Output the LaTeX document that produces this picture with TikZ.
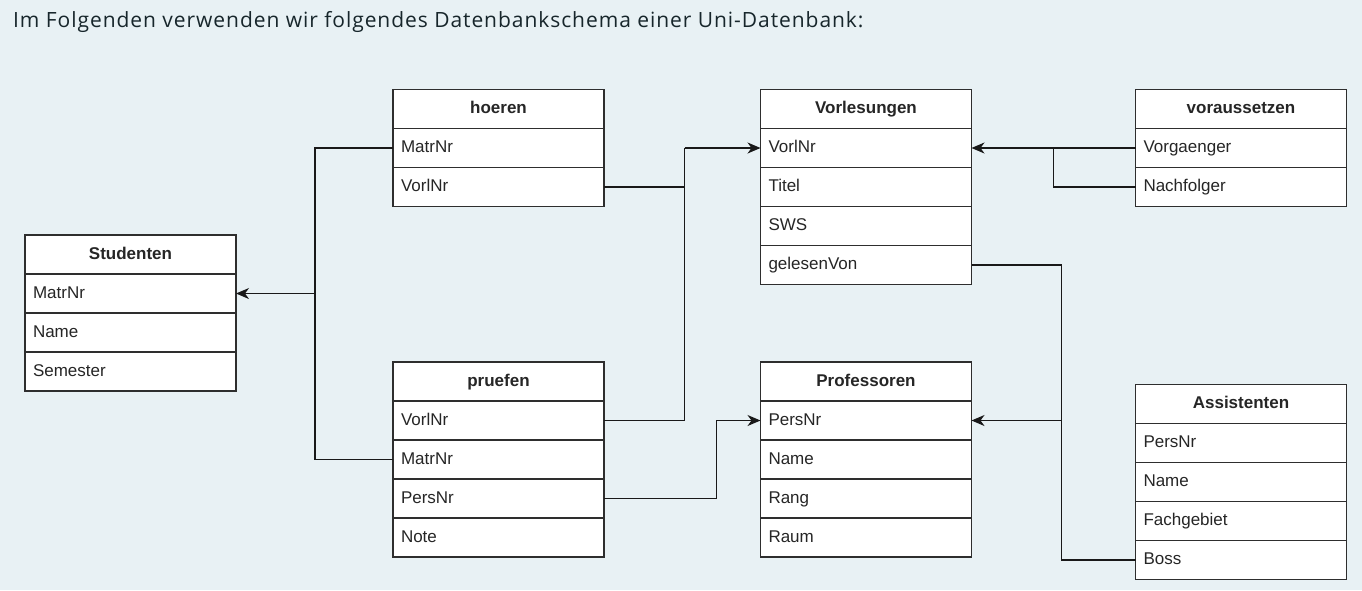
\documentclass[tikz,border=0pt]{standalone}
\usepackage{fontspec}
\setmainfont{Liberation Sans}
\newfontfamily\titlefont[LetterSpace=4.5]{Open Sans}
\usepackage{xcolor}
\usetikzlibrary{arrows.meta, positioning}
\definecolor{bgcolor}{HTML}{E8F1F4}
\definecolor{titlecolor}{HTML}{17262B}
\definecolor{bordercolor}{HTML}{2E2E2E}

\begin{document}
\begin{tikzpicture}[x=1pt, y=-1pt, node distance=0pt]
        \tikzstyle{head} = [rectangle, draw=bordercolor, fill=white, line width=1.3pt, outer sep=0pt, minimum width=211pt, minimum height=39pt, text height=12.5pt, text depth=3.5pt, font=\fontsize{17}{20}\selectfont\bfseries, text=black!85]
        \tikzstyle{attr} = [head, font=\fontsize{17}{20}\selectfont, inner xsep=8pt, text width=195pt, align=left]
        \tikzstyle{line} = [draw=black!90, line width=1.2pt]
        \tikzstyle{fk} = [line, -{Stealth[length=13pt, width=11pt, inset=4pt]}]

        \fill [bgcolor] (0,0) rectangle (1362,590);
        \useasboundingbox (0,0) rectangle (1362,590);

        \node [anchor=base west, inner sep=0pt, text=titlecolor, font=\titlefont\fontsize{21}{25}\selectfont] (title) at (13,27) {Im Folgenden verwenden wir folgendes Datenbankschema einer Uni-Datenbank:};

        % Studenten
        \node [head] (stu) at (130.5,254.5) {Studenten};
        \node [attr, below=of stu] (stu-matr) {MatrNr};
        \node [attr, below=of stu-matr] (stu-name) {Name};
        \node [attr, below=of stu-name] (stu-sem) {Semester};

        % hoeren
        \node [head] (hoe) at (498.5,109) {hoeren};
        \node [attr, below=of hoe] (hoe-matr) {MatrNr};
        \node [attr, below=of hoe-matr] (hoe-nr) {VorlNr};

        % pruefen
        \node [head] (pru) at (498.5,381.5) {pruefen};
        \node [attr, below=of pru] (pru-nr) {VorlNr};
        \node [attr, below=of pru-nr] (pru-matr) {MatrNr};
        \node [attr, below=of pru-matr] (pru-pers) {PersNr};
        \node [attr, below=of pru-pers] (pru-note) {Note};

        % Vorlesungen
        \node [head] (vor) at (866,109) {Vorlesungen};
        \node [attr, below=of vor] (vor-nr) {VorlNr};
        \node [attr, below=of vor-nr] (vor-titel) {Titel};
        \node [attr, below=of vor-titel] (vor-sws) {SWS};
        \node [attr, below=of vor-sws] (vor-gel) {gelesenVon};

        % Professoren
        \node [head] (pro) at (866,381.5) {Professoren};
        \node [attr, below=of pro] (pro-nr) {PersNr};
        \node [attr, below=of pro-nr] (pro-name) {Name};
        \node [attr, below=of pro-name] (pro-rang) {Rang};
        \node [attr, below=of pro-rang] (pro-raum) {Raum};

        % voraussetzen
        \node [head] (vs) at (1241,109) {voraussetzen};
        \node [attr, below=of vs] (vs-vor) {Vorgaenger};
        \node [attr, below=of vs-vor] (vs-nach) {Nachfolger};

        % Assistenten
        \node [head] (ass) at (1241,404) {Assistenten};
        \node [attr, below=of ass] (ass-nr) {PersNr};
        \node [attr, below=of ass-nr] (ass-name) {Name};
        \node [attr, below=of ass-name] (ass-fach) {Fachgebiet};
        \node [attr, below=of ass-fach] (ass-boss) {Boss};

        % bus points
        \coordinate (busS) at ([xshift=79pt]stu-matr.east);
        \coordinate (busV) at ([xshift=-76pt]vor-nr.west);
        \coordinate (busP) at ([xshift=-44pt]pro-nr.west);
        \coordinate (busVS) at ([xshift=82pt]vor-nr.east);
        \coordinate (busA) at ([xshift=90pt]pro-nr.east);

        \path [line] (hoe-matr.west) -| (busS);
        \path [line] (pru-matr.west) -| (busS);
        \path [fk] (busS) -- (stu-matr.east);

        \path [line] (hoe-nr.east) -| (busV);
        \path [line] (pru-nr.east) -| (busV);
        \path [fk] (busV) -- (vor-nr.west);

        \path [fk] (pru-pers.east) -| (busP) -- (pro-nr.west);

        \path [fk] (vs-vor.west) -- (vor-nr.east);
        \path [line] (vs-nach.west) -| (busVS);

        \path [line] (vor-gel.east) -| (busA);
        \path [line] (ass-boss.west) -| (busA);
        \path [fk] (busA) -- (pro-nr.east);
    \end{tikzpicture}
\end{document}
